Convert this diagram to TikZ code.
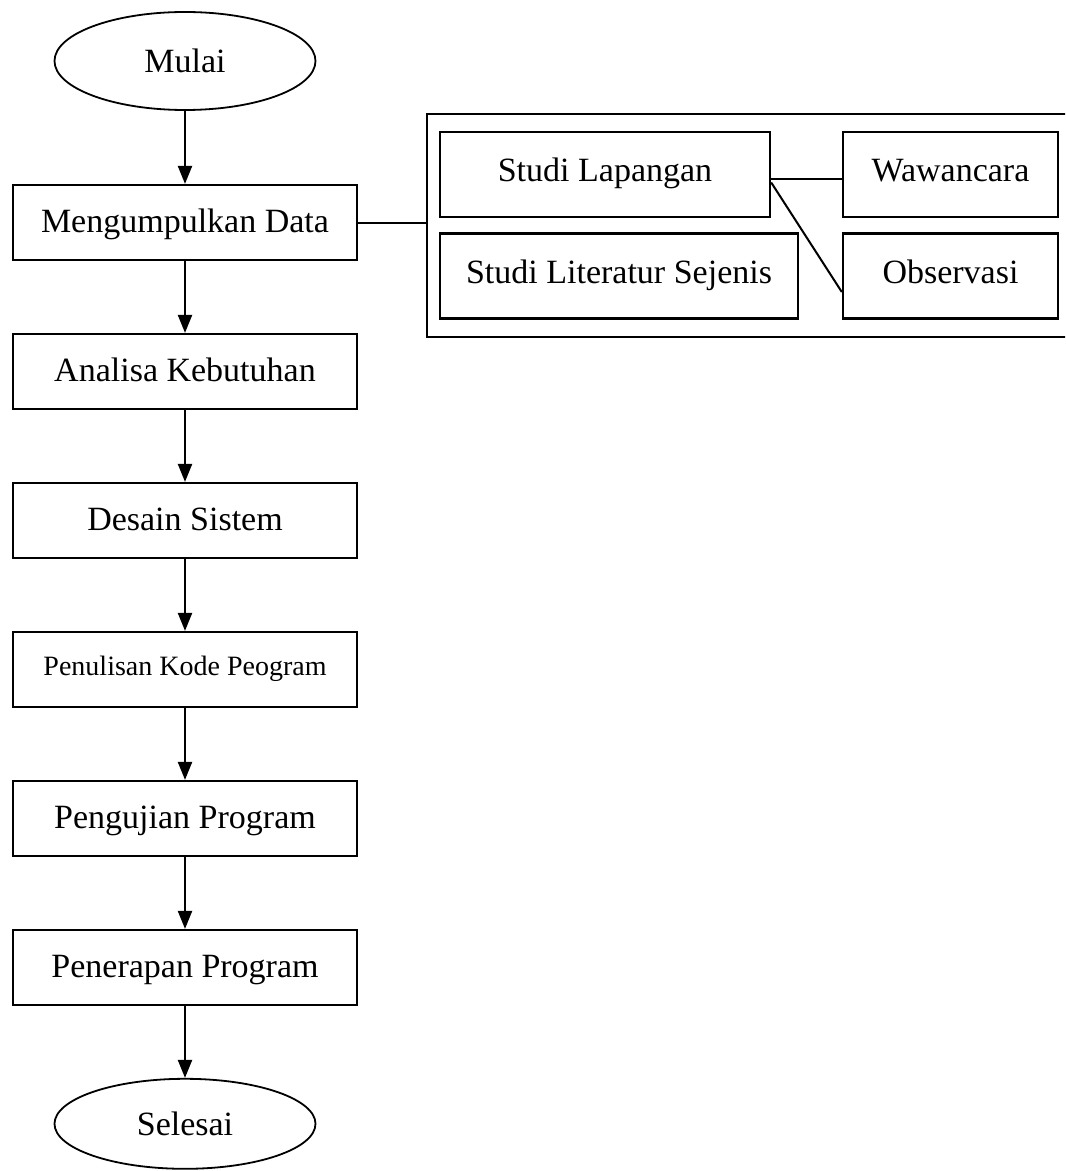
\documentclass[tikz,border=0pt]{standalone}
\usepackage{fontspec}
\setmainfont{Liberation Serif}
\usepackage{tikz}
\usetikzlibrary{shapes.geometric,arrows.meta,positioning}

\begin{document}
\begin{tikzpicture}[x=0.5pt, y=-0.5pt, node distance=35.8pt,
    font=\fontsize{17pt}{20pt}\selectfont,
    terminal/.style={ellipse, draw, line width=0.9pt, minimum width=130.5pt, inner sep=0pt},
    box/.style={rectangle, draw, line width=1.2pt, minimum width=172pt, inner xsep=3pt, inner ysep=4pt, text height=19.5pt, text depth=10pt},
    smallbox/.style={rectangle, draw, line width=1.2pt, inner xsep=3pt, inner ysep=5pt, text height=20pt, text depth=12.5pt},
    arrow/.style={-{Triangle[length=9pt,width=7pt]}, line width=1.1pt},
    line/.style={line width=1pt}]

    \useasboundingbox (0,0) rectangle (1065,1171);
    \clip (0,0) rectangle (1065,1171);

    % main flow
    \node[terminal, minimum height=49pt] (mulai) at (185,61) {Mulai};
    \node[box, below=36.5pt of mulai] (data) {Mengumpulkan Data};
    \node[box, below=of data] (analisa) {Analisa Kebutuhan};
    \node[box, below=of analisa] (desain) {Desain Sistem};
    \node[box, below=of desain, font=\fontsize{14pt}{17pt}\selectfont, text height=17.5pt, text depth=12pt] (kode) {Penulisan Kode Peogram};
    \node[box, below=of kode] (uji) {Pengujian Program};
    \node[box, below=of uji] (terap) {Penerapan Program};
    \node[terminal, minimum height=45pt, below=of terap] (selesai) {Selesai};

    \draw[arrow] (mulai) -- (data);
    \draw[arrow] (data) -- (analisa);
    \draw[arrow] (analisa) -- (desain);
    \draw[arrow] (desain) -- (kode);
    \draw[arrow] (kode) -- (uji);
    \draw[arrow] (uji) -- (terap);
    \draw[arrow] (terap) -- (selesai);

    % data collection group
    \node[rectangle, draw, line width=1.2pt, minimum width=325pt, minimum height=111.5pt, anchor=north west] (group) at (426,113) {};
    \node[smallbox, minimum width=165pt] (lapangan) at (605,174.5) {Studi Lapangan};
    \node[smallbox, minimum width=179pt] (literatur) at (619,276) {Studi Literatur Sejenis};
    \node[smallbox, minimum width=107.5pt] (wawancara) at (950.5,174.5) {Wawancara};
    \node[smallbox, minimum width=107.5pt] (observasi) at (950.5,276) {Observasi};

    \draw[line] (data.east) -- (data.east -| group.west);
    \draw[line] ([yshift=-2.5pt]lapangan.east) -- ([yshift=-2.5pt]wawancara.west);
    \draw[line] ([yshift=-4pt]lapangan.east) -- ([yshift=-8pt]observasi.west);

\end{tikzpicture}
\end{document}
